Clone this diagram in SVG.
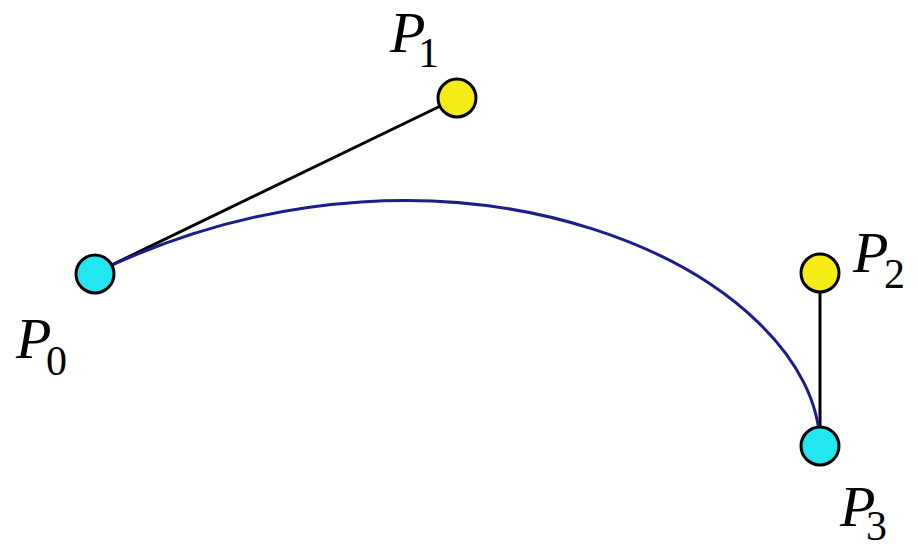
<svg xmlns="http://www.w3.org/2000/svg" width="918" height="544" viewBox="0 0 918 544">
<style>
.hl{stroke:#000;stroke-width:3;fill:none}
.cv{stroke:#1c1c8a;stroke-width:3;fill:none}
.pt{stroke:#000;stroke-width:3}
.end{fill:#22e6f0}
.ctl{fill:#f5ec16}
text{font-family:'Liberation Serif','Times New Roman',serif;fill:#000}
.P{font-style:italic;font-size:58px}
.s{font-size:42px}
</style>
<rect width="918" height="544" fill="#fff"/>
<g id="connectors">
<line class="hl" x1="95" y1="273" x2="457" y2="98"/>
<line class="hl" x1="820" y1="273" x2="820" y2="447"/>
<path class="cv" d="M95,273 C457,98 820,273 820,447"/>
</g>
<g id="P0"><circle class="pt end" cx="95" cy="274" r="19"/><text class="P" x="16" y="358">P</text><text class="s" x="46" y="375">0</text></g>
<g id="P1"><circle class="pt ctl" cx="457" cy="98" r="19"/><text class="P" x="390" y="52">P</text><text class="s" x="418" y="67">1</text></g>
<g id="P2"><circle class="pt ctl" cx="820" cy="273" r="19"/><text class="P" x="853" y="272">P</text><text class="s" x="884" y="288">2</text></g>
<g id="P3"><circle class="pt end" cx="820" cy="446" r="19"/><text class="P" x="840" y="526">P</text><text class="s" x="866" y="540">3</text></g>
</svg>
